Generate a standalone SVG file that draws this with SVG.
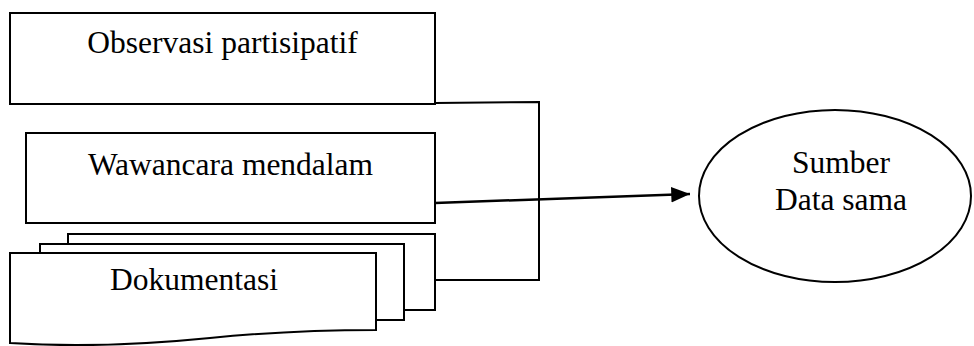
<svg xmlns="http://www.w3.org/2000/svg" width="974" height="346" viewBox="0 0 974 346">
  <style>
    .box { fill: #fff; stroke: #000; stroke-width: 2; }
    .line { fill: none; stroke: #000; stroke-width: 2; }
    .arrow-line { fill: none; stroke: #000; stroke-width: 2.5; }
    .label { font-family: "Liberation Serif", "Times New Roman", serif; font-size: 31.5px; fill: #000; text-anchor: middle; }
  </style>
  <defs>
    <marker id="arrow" markerWidth="8" markerHeight="8" refX="7.5" refY="4" orient="auto" markerUnits="strokeWidth">
      <path d="M0,0.9 L7.5,4 L0,7.1 Z" fill="#000"/>
    </marker>
  </defs>

  <g id="observasi">
    <rect class="box" x="10" y="13" width="425" height="91"/>
    <text class="label" x="222.5" y="53">Observasi partisipatif</text>
  </g>

  <g id="wawancara">
    <rect class="box" x="26" y="133" width="409" height="90"/>
    <text class="label" x="230.5" y="175">Wawancara mendalam</text>
  </g>

  <g id="dokumentasi">
    <!-- stacked sheets, back to front -->
    <rect class="box" x="68" y="234" width="367" height="76"/>
    <rect class="box" x="40" y="244" width="364" height="76"/>
    <path class="box" d="M10,253 L376,253 L376,330 C 320,330 260,333 210,338 C 140,345 70,347 10,343 Z"/>
    <text class="label" x="194" y="290">Dokumentasi</text>
  </g>

  <g id="sumber">
    <ellipse class="box" cx="835" cy="196" rx="136" ry="86"/>
    <text class="label" x="841" y="173">Sumber</text>
    <text class="label" x="841" y="210">Data sama</text>
  </g>

  <g id="connectors">
    <polyline class="line" points="435,103 539,102 539,280 435,280"/>
    <line class="arrow-line" x1="435" y1="203" x2="690" y2="194" marker-end="url(#arrow)"/>
  </g>
</svg>
